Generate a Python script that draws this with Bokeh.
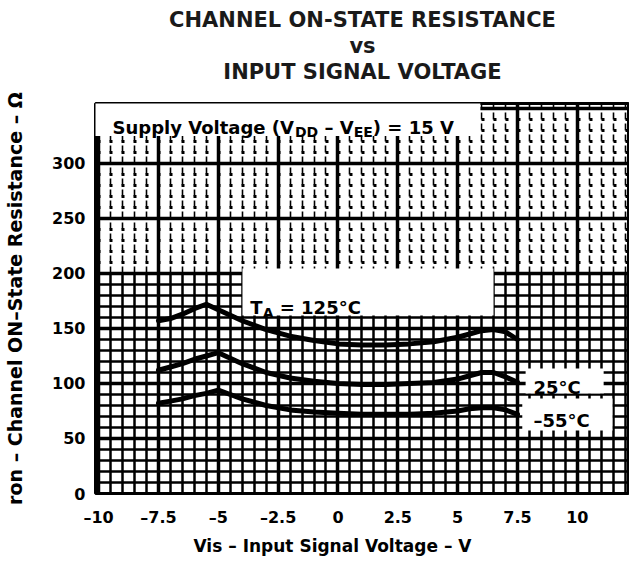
import math
from bokeh.plotting import figure
from bokeh.models import Label, BoxAnnotation, FixedTicker, Grid, Range1d, Title
from bokeh.embed import file_html
from bokeh.resources import INLINE

# ---------------- data ----------------
vis = [-7.5, -7, -6.5, -6, -5.5, -5, -4.5, -4, -3, -2, -1, 0, 1, 2, 3, 4, 5, 5.5, 6, 6.5, 7, 7.5]
r_125 = [157, 159, 163, 168, 172, 167, 162, 157, 149, 143, 139, 136, 135, 135, 136, 138, 142, 145, 148, 149, 147, 140]
r_25 = [112, 115, 118, 122, 125, 128, 123, 118, 110, 105, 102, 100, 99, 99, 100, 101, 104, 107, 110, 110, 106, 101]
r_m55 = [82, 84, 86, 89, 91, 94, 90, 86, 80, 76, 74, 73, 72, 72, 72, 73, 75, 77, 78, 78, 76, 72]

x_ticks = [-10, -7.5, -5, -2.5, 0, 2.5, 5, 7.5, 10]
x_tick_labels = ["–10", "–7.5", "–5", "–2.5", "0", "2.5", "5", "7.5", "10"]
y_ticks = [0, 50, 100, 150, 200, 250, 300]
y_tick_labels = ["0", "50", "100", "150", "200", "250", "300"]

FONT = "DejaVu Sans"

W = {' ': 348, '(': 457, ')': 457, '=': 838, '–': 500, '-': 415, '°': 500, '.': 380,
     'A': 774, 'C': 734, 'D': 830, 'E': 683, 'I': 372, 'N': 838, 'O': 850, 'R': 770,
     'S': 720, 'T': 682, 'V': 774, 'a': 675, 'c': 593, 'e': 678, 'g': 716, 'h': 712,
     'i': 343, 'l': 343, 'n': 712, 'o': 687, 'p': 716, 'r': 493, 's': 595, 't': 478,
     'u': 712, 'y': 652, 'Ω': 812}
for d in "0123456789":
    W[d] = 696


def tw(s, size):
    return sum(W.get(c, 650) for c in s) * size / 1000.0


p = figure(width=629, height=569, output_backend="svg", toolbar_location=None,
           title=None, x_range=Range1d(-10.13, 12.18), y_range=Range1d(0, 354.5),
           min_border_left=95, min_border_right=0, min_border_top=103, min_border_bottom=76)
p.background_fill_color = "white"
p.border_fill_color = "white"
p.outline_line_color = "black"
p.outline_line_width = 3

# axes
for ax in (p.xaxis, p.yaxis):
    ax.axis_line_color = None
    ax.major_tick_line_color = None
    ax.minor_tick_line_color = None
    ax.major_label_text_font = FONT
    ax.major_label_text_font_style = "bold"
    ax.major_label_text_font_size = "16px"
    ax.major_label_text_color = "black"
    ax.axis_label_text_font = FONT
    ax.axis_label_text_font_style = "bold"
    ax.axis_label_text_font_size = "19px"
    ax.axis_label_text_color = "black"
p.xaxis.ticker = FixedTicker(ticks=x_ticks)
p.xaxis.major_label_overrides = {t: l for t, l in zip(x_ticks, x_tick_labels)}
p.xaxis.major_label_standoff = 8
p.yaxis.ticker = FixedTicker(ticks=y_ticks)
p.yaxis.major_label_overrides = {t: l for t, l in zip(y_ticks, y_tick_labels)}
p.yaxis.major_label_standoff = 4
p.yaxis.axis_label = "ron – Channel ON–State Resistance – Ω"
p.yaxis.axis_label_standoff = 23

# x axis label as a title below (left aligned, shifted)
p.add_layout(Title(text="Vis – Input Signal Voltage – V", align="left", offset=98,
                   standoff=8, text_font=FONT, text_font_style="bold",
                   text_font_size="17px", text_color="black"), "below")

# spacer + title lines (first added sits closest to the frame)
p.add_layout(Title(text=" ", align="center", standoff=0, text_font=FONT,
                   text_font_size="15px"), "above")
for txt in ["INPUT SIGNAL VOLTAGE", "vs", "CHANNEL ON-STATE RESISTANCE"]:
    p.add_layout(Title(text=txt, align="center", standoff=0, text_font=FONT,
                       text_font_style="bold", text_font_size="21px",
                       text_color="#1a1a1a"), "above")

# grid (graph-paper look): dense boxes in the lower part, dotted in the upper part
x_major_grid = [-7.5 + 2.5 * i for i in range(-1, 9)]
x_minor_grid = [-10 + 0.5 * i for i in range(0, 46)]
y_major_grid = [50 * i for i in range(0, 8)]
y_minor_low = [10 * i for i in range(0, 20)]
y_minor_high = [10 * i for i in range(21, 36)]
SPLIT = 200

has_cb = "cross_bounds" in Grid.properties()

p.xgrid.ticker = FixedTicker(ticks=x_major_grid)
p.xgrid.grid_line_color = "black"
p.xgrid.grid_line_width = 3.5
p.ygrid.ticker = FixedTicker(ticks=y_major_grid, minor_ticks=y_minor_low)
p.ygrid.grid_line_color = "black"
p.ygrid.grid_line_width = 3.5
p.ygrid.minor_grid_line_color = "black"
p.ygrid.minor_grid_line_width = 2.5

if has_cb:
    p.add_layout(Grid(dimension=0, ticker=FixedTicker(ticks=[], minor_ticks=x_minor_grid),
                      cross_bounds=(0, SPLIT), grid_line_color=None,
                      minor_grid_line_color="black", minor_grid_line_width=2.5))
    p.add_layout(Grid(dimension=0, ticker=FixedTicker(ticks=[], minor_ticks=x_minor_grid),
                      cross_bounds=(SPLIT, 354.5), grid_line_color=None,
                      minor_grid_line_color="black", minor_grid_line_width=1.6,
                      minor_grid_line_dash="7 4"))
else:
    p.xgrid.ticker = FixedTicker(ticks=x_major_grid, minor_ticks=x_minor_grid)
    p.xgrid.minor_grid_line_color = "black"
    p.xgrid.minor_grid_line_width = 2

p.add_layout(Grid(dimension=1, ticker=FixedTicker(ticks=[], minor_ticks=y_minor_high),
                  grid_line_color=None, minor_grid_line_color="black",
                  minor_grid_line_width=3, minor_grid_line_dash="3 9",
                  minor_grid_line_dash_offset=10))

# curves
for ys in (r_125, r_25, r_m55):
    p.line(vis, ys, line_color="black", line_width=5, line_join="round", line_cap="round")

# white label boxes
for l, r, b, t in [(-10.2, 5.95, 325, 356), (-3.99, 6.5, 161.8, 204.5),
                   (7.84, 11.1, 90.9, 113.6), (7.7, 11.47, 57.3, 86.4)]:
    p.add_layout(BoxAnnotation(left=l, right=r, bottom=b, top=t, fill_color="white",
                               fill_alpha=1, line_color=None, level="annotation"))


def runs(x, y, pieces, angle=0.0, color="black"):
    adv = 0.0
    ca, sa = math.cos(angle), math.sin(angle)
    for text, size, dy in pieces:
        lead = len(text) - len(text.lstrip(" "))
        a = adv + tw(text[:lead], size)
        body = text.lstrip(" ")
        p.add_layout(Label(x=x, y=y, x_offset=a * ca - dy * sa, y_offset=a * sa + dy * ca,
                           text=body, angle=angle, text_font=FONT, text_font_style="bold",
                           text_font_size=f"{size}px", text_color=color,
                           text_baseline="alphabetic", text_align="left"))
        adv += tw(text, size)


# texts inside the plot area
runs(-9.42, 332.7, [("Supply Voltage (V", 18, 0), ("DD", 14, -5), (" – V", 18, 0),
                    ("EE", 14, -5), (") = 15 V", 18, 0)])
runs(-3.66, 169, [("T", 18, 0), ("A", 14, -5), (" = 125°C", 18, 0)])
runs(8.17, 96.4, [("25°C", 18, 0)])
runs(8.17, 66.4, [("–55°C", 18, 0)])

open("out.html", "w").write(file_html(p, INLINE))
